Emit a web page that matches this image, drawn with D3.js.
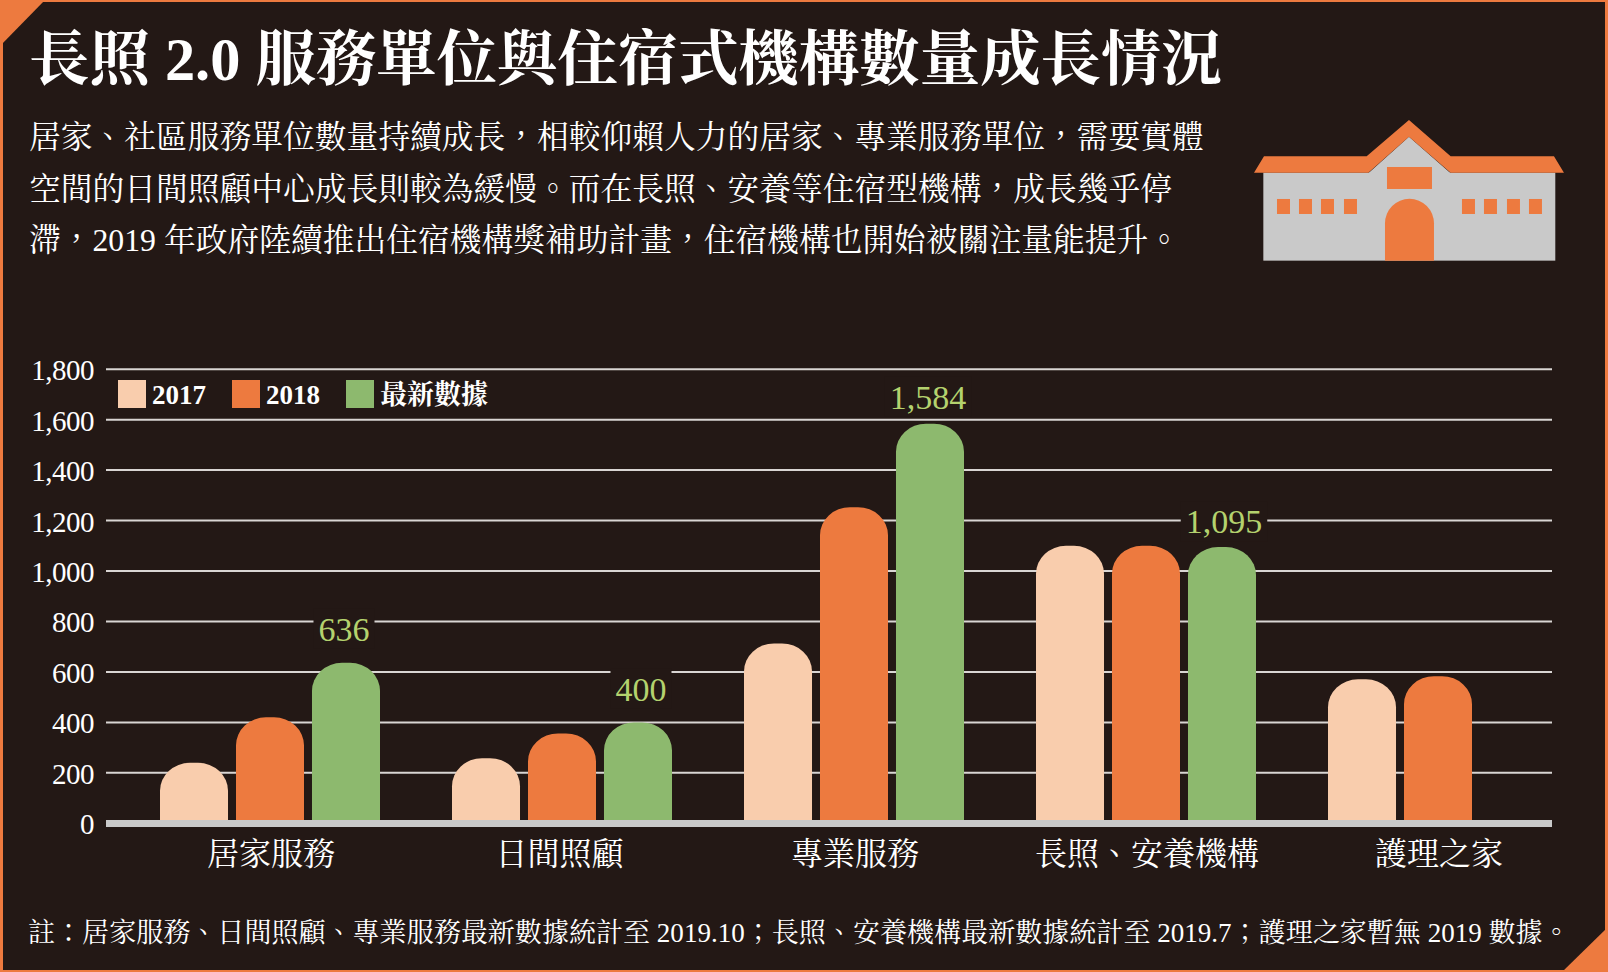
<!DOCTYPE html>
<html>
<head>
<meta charset="utf-8">
<script src="https://cdn.jsdelivr.net/npm/d3@7"></script>
<style>
  html, body { margin: 0; padding: 0; background: #231815; }
  svg { display: block; }
  text { font-family: "Liberation Serif", "Noto Serif CJK TC", "Noto Sans CJK TC", serif; fill: #fff; }
  .axis path, .axis line { display: none; }
  .axis text { font-size: 29px; letter-spacing: -0.5px; }
  .cat text { font-size: 32px; letter-spacing: 0; }
</style>
</head>
<body>
<svg id="chart"></svg>
<script>
const categories = ["居家服務", "日間照顧", "專業服務", "長照、安養機構", "護理之家"];
const seriesNames = ["2017", "2018", "最新數據"];
const values2017 = [240, 258, 713, 1100, 571];
const values2018 = [420, 356, 1253, 1100, 583];
const valuesLatest = [636, 400, 1584, 1095, null];
const yTicks = [0, 200, 400, 600, 800, 1000, 1200, 1400, 1600, 1800];

const titleText = "長照 2.0 服務單位與住宿式機構數量成長情況";
const introLines = [
    "居家、社區服務單位數量持續成長，相較仰賴人力的居家、專業服務單位，需要實體",
    "空間的日間照顧中心成長則較為緩慢。而在長照、安養等住宿型機構，成長幾乎停",
    "滯，2019 年政府陸續推出住宿機構獎補助計畫，住宿機構也開始被關注量能提升。"
];
const noteText = "註：居家服務、日間照顧、專業服務最新數據統計至 2019.10；長照、安養機構最新數據統計至 2019.7；護理之家暫無 2019 數據。";

const width = 1608;
const height = 972;
const bg = "#231815";
const orange = "#ed7a3f";
const peach = "#f9cdad";
const green = "#8db96e";
const grey = "#c9c9c9";
const labelGreen = "#b4d26e";
const seriesColors = [peach, orange, green];

const svg = d3.select("#chart")
    .attr("width", width)
    .attr("height", height)
    .attr("viewBox", `0 0 ${width} ${height}`);

// frame and corners
svg.append("rect")
    .attr("width", width)
    .attr("height", height)
    .attr("fill", orange);
svg.append("rect")
    .attr("x", 3)
    .attr("y", 2)
    .attr("width", width - 6)
    .attr("height", height - 4)
    .attr("fill", bg);
svg.append("polygon")
    .attr("points", "0,0 45,0 0,46")
    .attr("fill", orange);
svg.append("polygon")
    .attr("points", `${width},927 ${width},${height} 1562,${height}`)
    .attr("fill", orange);

// heading
svg.append("text")
    .attr("x", 29)
    .attr("y", 80)
    .attr("font-size", 60.4)
    .attr("font-weight", 700)
    .text(titleText);

svg.selectAll("text.intro")
    .data(introLines)
    .enter()
    .append("text")
    .attr("class", "intro")
    .attr("x", 29)
    .attr("y", function(d, i) { return 148 + i * 51.5; })
    .attr("font-size", 31.75)
    .text(function(d) { return d; });

// building icon, traced in the coordinates of the crop
const icon = svg.append("g")
    .attr("transform", "translate(1200, 90) scale(0.3333)");

icon.append("rect")
    .attr("x", 190).attr("y", 248)
    .attr("width", 876).attr("height", 264)
    .attr("fill", grey);
icon.append("polygon")
    .attr("points", "505,250 627,140 752,250")
    .attr("fill", grey);
icon.append("polygon")
    .attr("points", "162,248 192,199 500,199 627,90 752,199 1062,199 1092,248 752,248 627,140 505,248")
    .attr("fill", orange);
icon.append("rect")
    .attr("x", 561).attr("y", 231)
    .attr("width", 135).attr("height", 66)
    .attr("fill", orange);
icon.selectAll("rect.window")
    .data([231, 297, 363, 432, 786, 852, 921, 987])
    .enter()
    .append("rect")
    .attr("class", "window")
    .attr("x", function(d) { return d; })
    .attr("y", 327)
    .attr("width", 39)
    .attr("height", 45)
    .attr("fill", orange);
icon.append("path")
    .attr("d", "M555,512 V400 A73.5,73.5 0 0 1 702,400 V512 Z")
    .attr("fill", orange);

// scales
const x = d3.scaleBand()
    .domain(categories)
    .range([124, 1584]);

const series = d3.scaleBand()
    .domain(seriesNames)
    .range([0, 220])
    .paddingInner(0.105)
    .paddingOuter(0);

const y = d3.scaleLinear()
    .domain([0, 1800])
    .range([823.3, 369.2]);

// grid
svg.append("g")
    .selectAll("line")
    .data(yTicks.filter(function(d) { return d > 0; }))
    .enter()
    .append("line")
    .attr("x1", 106)
    .attr("x2", 1552)
    .attr("y1", function(d) { return y(d); })
    .attr("y2", function(d) { return y(d); })
    .attr("stroke", "#d9d5d3")
    .attr("stroke-width", 2);

// bars
const barRx = 30;
const barRy = 28;
function barPath(bx, value, w) {
    const top = y(value);
    const bottom = y(0);
    return `M${bx},${bottom} V${top + barRy} A${barRx},${barRy} 0 0 1 ${bx + barRx},${top} ` +
        `H${bx + w - barRx} A${barRx},${barRy} 0 0 1 ${bx + w},${top + barRy} V${bottom} Z`;
}

const allSeries = [values2017, values2018, valuesLatest];

allSeries.forEach(function(vals, s) {
    svg.append("g")
        .selectAll("path")
        .data(vals.map(function(v, i) { return { cat: categories[i], value: v }; })
            .filter(function(d) { return d.value !== null; }))
        .enter()
        .append("path")
        .attr("d", function(d) {
            const bx = x(d.cat) + 36 + series(seriesNames[s]);
            return barPath(bx, d.value, series.bandwidth());
        })
        .attr("fill", seriesColors[s]);
});

// value labels of the latest series, with a patch that cuts the grid
// hand nudges: the labels do not sit quite the same over each bar
const labelNudge = {
    "居家服務": [-2, -22],
    "日間照顧": [3, -21.5],
    "專業服務": [-2, -15],
    "長照、安養機構": [2, -14]
};

const latest = valuesLatest
    .map(function(v, i) { return { cat: categories[i], value: v }; })
    .filter(function(d) { return d.value !== null; });

const labels = svg.append("g")
    .selectAll("g")
    .data(latest)
    .enter()
    .append("g")
    .attr("transform", function(d) {
        const cx = x(d.cat) + 36 + series(seriesNames[2]) + series.bandwidth() / 2;
        const nudge = labelNudge[d.cat];
        return `translate(${cx + nudge[0]}, ${y(d.value) + nudge[1]})`;
    });

labels.append("text")
    .attr("text-anchor", "middle")
    .attr("font-size", 34)
    .style("fill", labelGreen)
    .text(function(d) { return d3.format(",")(d.value); });

labels.insert("rect", "text")
    .attr("x", function() { return -this.parentNode.querySelector("text").getComputedTextLength() / 2 - 5; })
    .attr("y", -32)
    .attr("width", function() { return this.parentNode.querySelector("text").getComputedTextLength() + 10; })
    .attr("height", 40)
    .attr("fill", bg);

// axis band
svg.append("rect")
    .attr("x", 106)
    .attr("y", 820)
    .attr("width", 1446)
    .attr("height", 7)
    .attr("fill", grey);

// axes
const yAxis = svg.append("g")
    .attr("class", "axis")
    .attr("transform", "translate(102, 0)")
    .call(d3.axisLeft(y).tickValues(yTicks).tickSize(0).tickPadding(8).tickFormat(d3.format(",")));

yAxis.selectAll("text").attr("dy", "0.36em");

const xAxis = svg.append("g")
    .attr("class", "axis cat")
    .attr("transform", "translate(1, 842)")
    .call(d3.axisBottom(x).tickSize(0).tickPadding(0));

xAxis.selectAll("text")
    .filter(function(d) { return d === "日間照顧"; })
    .attr("dx", -3.5);

// legend
const legend = svg.append("g")
    .attr("transform", "translate(118, 380)");

const legendX = [0, 114, 228];

legend.selectAll("rect")
    .data(seriesNames)
    .enter()
    .append("rect")
    .attr("x", function(d, i) { return legendX[i]; })
    .attr("width", 28)
    .attr("height", 28)
    .attr("fill", function(d, i) { return seriesColors[i]; });

legend.selectAll("text")
    .data(seriesNames)
    .enter()
    .append("text")
    .attr("x", function(d, i) { return legendX[i] + 34; })
    .attr("y", 24)
    .attr("font-size", 27)
    .attr("font-weight", 700)
    .text(function(d) { return d; });

// note
svg.append("text")
    .attr("x", 28)
    .attr("y", 942)
    .attr("font-size", 27.05)
    .text(noteText);
</script>
</body>
</html>
